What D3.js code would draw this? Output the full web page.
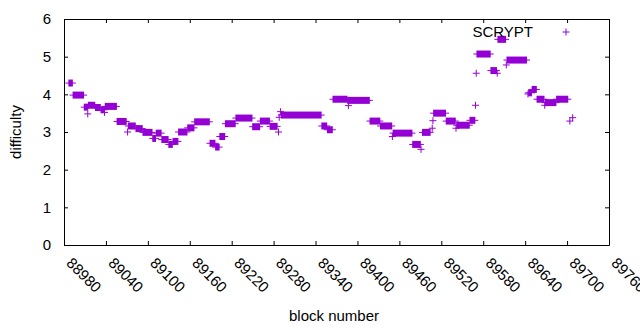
<!DOCTYPE html>
<html>
<head>
<meta charset="utf-8">
<script src="https://cdn.jsdelivr.net/npm/d3@7"></script>
<style>
    body { margin: 0; background: #fff; }
    text { font-family: "Liberation Sans", Arial, sans-serif; font-size: 15px; fill: #000; }
</style>
</head>
<body>
<div id="chart"></div>
<script>
// difficulty runs: first block, last block, difficulty
var runFrom = [88987, 88993, 89009, 89014, 89015, 89025, 89033, 89038, 89039, 89056,
    89071, 89072, 89083, 89093, 89107, 89112, 89120, 89130, 89136, 89144,
    89157, 89167, 89189, 89197, 89203, 89211, 89226, 89250, 89261, 89275,
    89287, 89288, 89290, 89291, 89349, 89357, 89365, 89386, 89387, 89418,
    89433, 89450, 89451, 89479, 89491, 89493, 89507, 89508, 89509, 89527,
    89541, 89542, 89561, 89569, 89570, 89571, 89591, 89600, 89601, 89613,
    89614, 89644, 89645, 89650, 89657, 89668, 89669, 89685, 89704, 89708];
var runTo = [88992, 89008, 89014, 89014, 89024, 89032, 89038, 89038, 89055, 89069,
    89071, 89082, 89092, 89106, 89111, 89119, 89129, 89135, 89143, 89156,
    89166, 89188, 89196, 89202, 89210, 89225, 89249, 89260, 89274, 89285,
    89287, 89288, 89290, 89348, 89356, 89364, 89385, 89417, 89387, 89432,
    89449, 89450, 89478, 89490, 89491, 89504, 89507, 89508, 89526, 89540,
    89541, 89560, 89568, 89569, 89570, 89590, 89599, 89600, 89612, 89613,
    89642, 89644, 89649, 89656, 89667, 89668, 89684, 89701, 89704, 89708];
var runDiff = [4.30, 3.98, 3.66, 3.48, 3.71, 3.65, 3.59, 3.52, 3.68, 3.28,
    3.00, 3.16, 3.09, 2.99, 2.83, 2.97, 2.80, 2.67, 2.75, 3.00,
    3.11, 3.27, 2.70, 2.60, 2.88, 3.22, 3.37, 3.14, 3.29, 3.15,
    3.00, 3.39, 3.54, 3.45, 3.16, 3.06, 3.87, 3.84, 3.70, 3.29,
    3.16, 2.88, 2.97, 2.67, 2.54, 2.99, 3.10, 3.30, 3.50, 3.29,
    3.10, 3.18, 3.31, 3.71, 4.56, 5.07, 4.63, 4.56, 5.46, 4.78,
    4.91, 4.01, 4.04, 4.13, 3.87, 3.71, 3.78, 3.87, 3.29, 3.38];

var xTicks = [88980, 89040, 89100, 89160, 89220, 89280, 89340, 89400, 89460, 89520, 89580, 89640, 89700, 89760];
var yTicks = [0, 1, 2, 3, 4, 5, 6];
var seriesName = "SCRYPT";

var svgWidth = 640;
var svgHeight = 330;
var margin = { top: 19, right: 31, bottom: 85, left: 64 };
var chartWidth = svgWidth - margin.left - margin.right;
var chartHeight = svgHeight - margin.top - margin.bottom;
var purple = "#9400d3";
var arm = 3.5;

var svg = d3.select("#chart")
    .append("svg")
    .attr("width", svgWidth)
    .attr("height", svgHeight);

svg.append("rect")
    .attr("width", svgWidth)
    .attr("height", svgHeight)
    .attr("fill", "#fff");

var chartGroup = svg.append("g")
    .attr("transform", `translate(${margin.left}, ${margin.top})`);

var xScale = d3.scaleLinear()
    .domain([88980, 89760])
    .range([0, chartWidth]);

var yScale = d3.scaleLinear()
    .domain([0, 6])
    .range([chartHeight, 0]);

// axes, ticks point inward, mirrored on top and right
var bottomAxis = chartGroup.append("g")
    .attr("transform", `translate(0, ${chartHeight})`)
    .call(d3.axisBottom(xScale).tickValues(xTicks).tickSize(-4).tickSizeOuter(0).tickFormat(d3.format("d")));

bottomAxis.selectAll("text")
    .attr("x", 0)
    .attr("y", 0)
    .attr("dy", 0)
    .attr("text-anchor", "start")
    .attr("transform", "translate(1, 19) rotate(45)");

chartGroup.append("g")
    .call(d3.axisTop(xScale).tickValues(xTicks).tickSize(-4).tickSizeOuter(0).tickFormat(""));

chartGroup.append("g")
    .call(d3.axisLeft(yScale).tickValues(yTicks).tickSize(-4).tickSizeOuter(0).tickPadding(13).tickFormat(d3.format("d")));

chartGroup.append("g")
    .attr("transform", `translate(${chartWidth}, 0)`)
    .call(d3.axisRight(yScale).tickValues(yTicks).tickSize(-4).tickSizeOuter(0).tickFormat(""));

chartGroup.selectAll(".domain").attr("stroke", "#000");
chartGroup.selectAll(".tick line").attr("stroke", "#000");

// runs of "+" points: overlapping vertical arms make a solid block
var runs = runFrom.map(function (d, i) {
    return { from: d, to: runTo[i], diff: runDiff[i] };
});

var runGroup = chartGroup.selectAll(".run")
    .data(runs)
    .enter()
    .append("g")
    .attr("class", "run");

runGroup.append("rect")
    .attr("x", d => xScale(d.from) - 0.5)
    .attr("y", d => yScale(d.diff) - arm)
    .attr("width", d => xScale(d.to) - xScale(d.from) + 1)
    .attr("height", arm * 2)
    .attr("fill", purple);

runGroup.append("path")
    .attr("d", d => `M${xScale(d.from) - arm},${yScale(d.diff)}H${xScale(d.to) + arm}`)
    .attr("stroke", purple)
    .attr("stroke-width", 1);

// legend
svg.append("text")
    .attr("x", 533)
    .attr("y", 37)
    .attr("text-anchor", "end")
    .text(seriesName);

svg.append("path")
    .attr("d", `M${566 - arm},32H${566 + arm}M566,${32 - arm}V${32 + arm}`)
    .attr("stroke", purple)
    .attr("stroke-width", 1);

// axis titles
svg.append("text")
    .attr("x", 334)
    .attr("y", 321)
    .attr("text-anchor", "middle")
    .text("block number");

svg.append("text")
    .attr("transform", `translate(21, ${margin.top + chartHeight / 2}) rotate(-90)`)
    .attr("text-anchor", "middle")
    .text("difficulty");
</script>
</body>
</html>
